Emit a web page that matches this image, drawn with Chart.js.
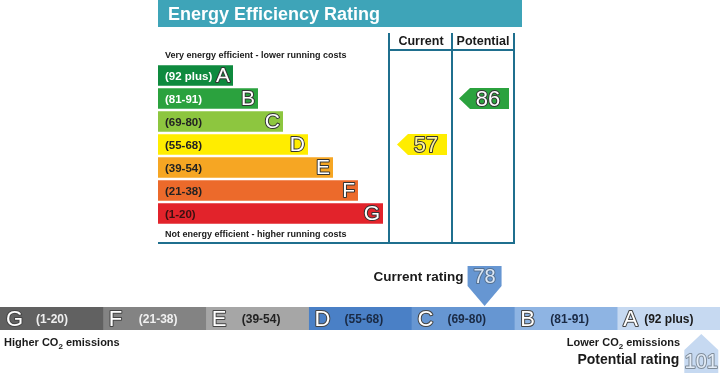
<!DOCTYPE html>
<html>
<head>
<meta charset="utf-8">
<script src="https://cdn.jsdelivr.net/npm/chart.js@4/dist/chart.umd.min.js"></script>
<style>
  body { margin: 0; background: #fff; }
  #wrap { position: relative; width: 720px; height: 373px; }
  canvas { position: absolute; left: 0; }
  #eeChart { top: 0; }
  #co2Chart { top: 250px; }
</style>
</head>
<body>
<div id="wrap">
  <canvas id="eeChart" width="720" height="250"></canvas>
  <canvas id="co2Chart" width="720" height="123"></canvas>
</div>
<script>
// bands, top to bottom
const bands = ['A', 'B', 'C', 'D', 'E', 'F', 'G'];
const bandRanges = ['(92 plus)', '(81-91)', '(69-80)', '(55-68)', '(39-54)', '(21-38)', '(1-20)'];
const bandMin = [92, 81, 69, 55, 39, 21, 1];
const bandMax = [102, 91, 80, 68, 54, 38, 20];
const barLength = [3, 4, 5, 6, 7, 8, 9];

const eeCurrent = 57;
const eePotential = 86;
const co2Current = 78;
const co2Potential = 101;

const eeColors = ['#0e8a3e', '#2ba23e', '#8dc63f', '#ffed00', '#f6a623', '#ec6a2b', '#e2232b'];
const eeRangeText = ['#fff', '#fff', '#222', '#222', '#222', '#222', '#3a1010'];
const co2Colors = ['#c6d9f1', '#8eb4e3', '#6696d2', '#4a80c6', '#a6a6a6', '#838383', '#616161'];
const co2RangeText = ['#1a1a1a', '#1a2a44', '#1a2a44', '#1a2a44', '#222', '#f0f0f0', '#f0f0f0'];

const FONT = '"Liberation Sans", Arial, sans-serif';
const LINE = '#1f6f8e';

function bandOf(v) {
    for (let i = 0; i < bands.length; i++) {
        if (v >= bandMin[i] && v <= bandMax[i]) return i;
    }
    return 0;
}

function outlined(ctx, text, x, y, size, fill, stroke) {
    ctx.font = size + 'px ' + FONT;
    ctx.lineJoin = 'round';
    ctx.lineWidth = 2;
    ctx.strokeStyle = stroke;
    ctx.strokeText(text, x, y);
    ctx.fillStyle = fill;
    ctx.fillText(text, x, y);
}

function co2Text(ctx, pre, post, xRight, y, size) {
    ctx.font = 'bold ' + size + 'px ' + FONT;
    const sub = 'bold ' + Math.round(size * 0.7) + 'px ' + FONT;
    const w1 = ctx.measureText(pre).width;
    const w3 = ctx.measureText(post).width;
    ctx.font = sub;
    const w2 = ctx.measureText('2').width;
    let x = xRight - (w1 + w2 + w3);
    if (xRight < 0) x = -xRight;
    ctx.textAlign = 'left';
    ctx.fillStyle = '#1a1a1a';
    ctx.font = 'bold ' + size + 'px ' + FONT;
    ctx.fillText(pre, x, y);
    ctx.font = sub;
    ctx.fillText('2', x + w1, y + 3);
    ctx.font = 'bold ' + size + 'px ' + FONT;
    ctx.fillText(post, x + w1 + w2, y);
}

function leftArrow(ctx, x0, x1, yc, h, color) {
    ctx.beginPath();
    ctx.moveTo(x0, yc);
    ctx.lineTo(x0 + 11, yc - h / 2);
    ctx.lineTo(x1, yc - h / 2);
    ctx.lineTo(x1, yc + h / 2);
    ctx.lineTo(x0 + 11, yc + h / 2);
    ctx.closePath();
    ctx.fillStyle = color;
    ctx.fill();
}

const eeDecor = {
    id: 'eeDecor',
    afterDatasetsDraw(chart) {
        const ctx = chart.ctx;
        const ys = chart.scales.y;
        const meta = chart.getDatasetMeta(0);
        ctx.save();
        // title bar
        ctx.fillStyle = '#3ea4b8';
        ctx.fillRect(158, 0, 364, 27);
        ctx.fillStyle = '#fff';
        ctx.font = 'bold 18px ' + FONT;
        ctx.textBaseline = 'alphabetic';
        ctx.textAlign = 'left';
        ctx.fillText('Energy Efficiency Rating', 168, 20);

        // table lines
        ctx.strokeStyle = LINE;
        ctx.lineWidth = 2;
        ctx.beginPath();
        [389, 452, 514].forEach(x => { ctx.moveTo(x, 33); ctx.lineTo(x, 244); });
        ctx.moveTo(389, 50); ctx.lineTo(514, 50);
        ctx.moveTo(158, 243); ctx.lineTo(515, 243);
        ctx.stroke();

        ctx.fillStyle = '#1a1a1a';
        ctx.font = 'bold 12.5px ' + FONT;
        ctx.textAlign = 'center';
        ctx.fillText('Current', 421, 45);
        ctx.fillText('Potential', 483, 45);

        ctx.textAlign = 'left';
        ctx.font = 'bold 9px ' + FONT;
        ctx.fillText('Very energy efficient - lower running costs', 165, 58);
        ctx.fillText('Not energy efficient - higher running costs', 165, 237);

        // bar labels
        ctx.textBaseline = 'middle';
        meta.data.forEach((bar, i) => {
            ctx.textAlign = 'left';
            ctx.fillStyle = eeRangeText[i];
            ctx.font = 'bold 11.5px ' + FONT;
            ctx.fillText(bandRanges[i], 165, bar.y + 1);
            ctx.textAlign = 'right';
            outlined(ctx, bands[i], bar.x - 3, bar.y + 1, 21, '#fff', '#333');
        });

        // current / potential arrows
        const cy = ys.getPixelForValue(bandOf(eeCurrent));
        const py = ys.getPixelForValue(bandOf(eePotential));
        leftArrow(ctx, 397, 447, cy, 21, eeColors[bandOf(eeCurrent)]);
        leftArrow(ctx, 459, 509, py, 21, eeColors[bandOf(eePotential)]);
        ctx.textAlign = 'center';
        outlined(ctx, String(eeCurrent), 426, cy + 1, 22, '#fff59a', '#333');
        outlined(ctx, String(eePotential), 488, py + 1, 22, '#fff', '#333');
        ctx.restore();
    }
};

new Chart(document.getElementById('eeChart'), {
    type: 'bar',
    data: {
        labels: bands,
        datasets: [{
            data: barLength,
            backgroundColor: eeColors,
            barPercentage: 0.9,
            categoryPercentage: 1
        }]
    },
    options: {
        indexAxis: 'y',
        responsive: false,
        animation: false,
        devicePixelRatio: 1,
        layout: { padding: { left: 158, right: 212, top: 64, bottom: 25 } },
        scales: {
            x: { display: false, min: 0, max: 14 },
            y: { display: false }
        },
        plugins: { legend: { display: false }, tooltip: { enabled: false } }
    },
    plugins: [eeDecor]
});

// bottom band: G on the left, A on the right
const co2Order = bands.map((b, i) => i).reverse();

function co2X(chart, v) {
    const i = bandOf(v);
    const seg = 6 - i;
    const f = (v - bandMin[i]) / (bandMax[i] - bandMin[i] + 1);
    return chart.scales.x.getPixelForValue(seg + f);
}

const co2Decor = {
    id: 'co2Decor',
    afterDatasetsDraw(chart) {
        const ctx = chart.ctx;
        const xs = chart.scales.x;
        const area = chart.chartArea;
        const yc = (area.top + area.bottom) / 2;
        ctx.save();
        ctx.textBaseline = 'middle';
        co2Order.forEach((i, seg) => {
            const left = xs.getPixelForValue(seg);
            ctx.textAlign = 'left';
            outlined(ctx, bands[i], left + 6, yc + 1, 22, '#fff', '#444');
            ctx.fillStyle = co2RangeText[i];
            ctx.font = 'bold 12px ' + FONT;
            ctx.fillText(bandRanges[i], left + (i === 0 ? 27 : 36), yc + 1);
        });

        // current marker (points down onto the band)
        const cx = co2X(chart, co2Current) - 4;
        ctx.beginPath();
        ctx.moveTo(cx - 17, 16);
        ctx.lineTo(cx + 17, 16);
        ctx.lineTo(cx + 17, 36);
        ctx.lineTo(cx, area.top - 1);
        ctx.lineTo(cx - 17, 36);
        ctx.closePath();
        ctx.fillStyle = co2Colors[bandOf(co2Current)];
        ctx.fill();
        ctx.textAlign = 'center';
        outlined(ctx, String(co2Current), cx, 27, 20, '#dbe7f6', '#55708f');

        // potential marker (points up from below)
        const px = co2X(chart, co2Potential);
        ctx.beginPath();
        ctx.moveTo(px, area.bottom + 4);
        ctx.lineTo(px + 17, 100);
        ctx.lineTo(px + 17, 123);
        ctx.lineTo(px - 17, 123);
        ctx.lineTo(px - 17, 100);
        ctx.closePath();
        ctx.fillStyle = co2Colors[bandOf(co2Potential)];
        ctx.fill();
        outlined(ctx, String(co2Potential), px, 112, 20, '#e3ecf7', '#7f8c99');

        ctx.textBaseline = 'alphabetic';
        ctx.textAlign = 'right';
        ctx.fillStyle = '#1a1a1a';
        ctx.font = 'bold 13.5px ' + FONT;
        ctx.fillText('Current rating', cx - 21, 31);
        ctx.font = 'bold 14px ' + FONT;
        ctx.fillText('Potential rating', px - 22, 114);
        co2Text(ctx, 'Lower CO', ' emissions', 680, 96, 11);
        co2Text(ctx, 'Higher CO', ' emissions', -4, 96, 11);
        ctx.restore();
    }
};

new Chart(document.getElementById('co2Chart'), {
    type: 'bar',
    data: {
        labels: ['band'],
        datasets: co2Order.map(i => ({
            label: bands[i],
            data: [1],
            backgroundColor: co2Colors[i],
            barPercentage: 1,
            categoryPercentage: 1
        }))
    },
    options: {
        indexAxis: 'y',
        responsive: false,
        animation: false,
        devicePixelRatio: 1,
        layout: { padding: { left: 0, right: 0, top: 57, bottom: 43 } },
        scales: {
            x: { display: false, stacked: true, min: 0, max: 7 },
            y: { display: false, stacked: true }
        },
        plugins: { legend: { display: false }, tooltip: { enabled: false } }
    },
    plugins: [co2Decor]
});
</script>
</body>
</html>
